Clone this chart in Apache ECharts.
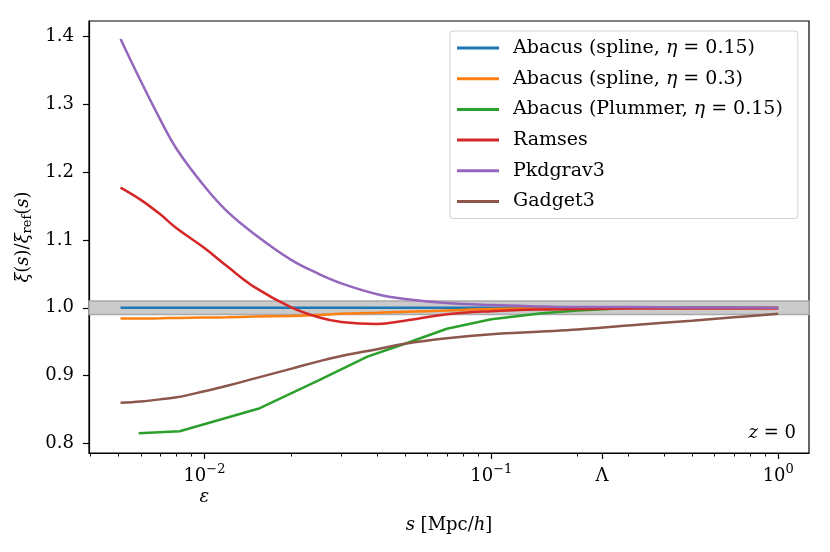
<!DOCTYPE html>
<html lang="en">
<head>
    <meta charset="UTF-8">
    <title>xi ratio</title>
    <script src="https://cdn.jsdelivr.net/npm/echarts@6.0.0/dist/echarts.min.js"></script>
    <style>
        html, body { margin: 0; padding: 0; background: #fff; }
    </style>
</head>
<body>
    <div id="chart" style="width: 830px; height: 552px;"></div>
    <script>
        // separations s [Mpc/h]
        var sGrid = [0.0051, 0.006, 0.007, 0.008, 0.01, 0.012, 0.015, 0.02, 0.025, 0.03,
            0.04, 0.05, 0.07, 0.1, 0.15, 0.2, 0.3, 0.5, 0.7, 1.0];

        var splineEta015 = [1, 1, 1, 1, 1, 1, 1, 1, 1, 1, 1, 1, 1, 1, 1, 1, 1, 1, 1, 1];
        var splineEta03 = [0.984, 0.984, 0.9845, 0.985, 0.9855, 0.986, 0.987, 0.988, 0.9895, 0.991,
            0.9925, 0.994, 0.996, 0.998, 0.999, 0.9995, 1.0, 1.0, 1.0, 1.0];
        var ramses = [1.177, 1.159, 1.138, 1.117, 1.088, 1.061, 1.030, 1.001, 0.986, 0.979,
            0.976, 0.981, 0.9905, 0.995, 0.9975, 0.998, 0.999, 0.999, 0.999, 0.999];
        var pkdgrav3 = [1.396, 1.334, 1.278, 1.234, 1.179, 1.142, 1.108, 1.071, 1.050, 1.036,
            1.020, 1.013, 1.007, 1.004, 1.002, 1.001, 1.001, 1.0005, 1.0003, 1.0];
        var gadget3 = [0.860, 0.862, 0.865, 0.868, 0.877, 0.885, 0.896, 0.910, 0.921, 0.929,
            0.939, 0.947, 0.955, 0.961, 0.965, 0.968, 0.974, 0.981, 0.986, 0.991];

        // Plummer run is sampled on its own coarser grid
        var sPlummer = [0.0059, 0.0082, 0.0156, 0.025, 0.037, 0.05, 0.07, 0.1, 0.15, 0.2, 0.3, 0.5, 0.74];
        var plummer = [0.815, 0.818, 0.852, 0.893, 0.928, 0.947, 0.969, 0.983, 0.992, 0.996, 0.9995, 1.0, 1.0];

        var seriesNames = ['Abacus (spline, η = 0.15)', 'Abacus (spline, η = 0.3)', 'Abacus (Plummer, η = 0.15)',
            'Ramses', 'Pkdgrav3', 'Gadget3'];
        var colors = ['#1f77b4', '#ff7f0e', '#2ca02c', '#d62728', '#9467bd', '#8c564b'];

        var yTicks = [0.8, 0.9, 1.0, 1.1, 1.2, 1.3, 1.4];
        var xMajorTicks = [0.01, 0.1, 0.243, 1];
        var xMinorTicks = [0.004, 0.005, 0.006, 0.007, 0.008, 0.009,
            0.02, 0.03, 0.04, 0.05, 0.06, 0.07, 0.08, 0.09,
            0.2, 0.3, 0.4, 0.5, 0.6, 0.7, 0.8, 0.9];

        var FONT = 'DejaVu Serif';

        function pairs(xs, ys) {
            return xs.map(function (x, i) { return [x, ys[i]]; });
        }

        var valueSets = [
            pairs(sGrid, splineEta015),
            pairs(sGrid, splineEta03),
            pairs(sPlummer, plummer),
            pairs(sGrid, ramses),
            pairs(sGrid, pkdgrav3),
            pairs(sGrid, gadget3)
        ];

        var series = valueSets.map(function (d, i) {
            var s = {
                name: seriesNames[i],
                type: 'line',
                xAxisIndex: 0,
                data: d,
                symbol: 'none',
                smooth: i === 2 ? false : 0.4,
                lineStyle: { width: 2.5, color: colors[i] },
                itemStyle: { color: colors[i] },
                z: 3
            };
            if (i === 0) {
                // +-1% band
                s.markArea = {
                    silent: true,
                    z: 1,
                    itemStyle: { color: '#cbcbcb', borderColor: '#a9a9a9', borderWidth: 1.5 },
                    data: [[{ yAxis: 0.99 }, { yAxis: 1.01 }]]
                };
            }
            return s;
        });

        var myChart = echarts.init(document.getElementById('chart'));
        var option = {
            backgroundColor: '#ffffff',
            animation: false,
            textStyle: { fontFamily: FONT },
            grid: {
                left: 89,
                top: 21,
                right: 21,
                bottom: 99,
                show: true,
                borderColor: '#000',
                borderWidth: 1.2,
                backgroundColor: 'transparent'
            },
            legend: {
                orient: 'vertical',
                left: 450,
                top: 31,
                padding: [7, 15, 7, 7],
                itemGap: 10.7,
                itemWidth: 42,
                itemHeight: 3,
                icon: 'rect',
                backgroundColor: 'rgba(255,255,255,0.85)',
                borderColor: '#d0d0d0',
                borderWidth: 1,
                borderRadius: 3,
                formatter: function (name) {
                    return name.replace('η', '{i|η}');
                },
                textStyle: {
                    fontFamily: FONT,
                    fontSize: 19,
                    color: '#000',
                    lineHeight: 20,
                    padding: [0, 0, 0, 9],
                    rich: {
                        i: { fontFamily: FONT, fontStyle: 'italic', fontSize: 19, color: '#000' }
                    }
                },
                data: seriesNames
            },
            xAxis: [{
                type: 'log',
                logBase: 10,
                min: 0.00396,
                max: 1.28,
                name: '{i|s} [Mpc/{i|h}]',
                nameLocation: 'middle',
                nameGap: 63,
                nameTextStyle: {
                    fontFamily: FONT,
                    fontSize: 18,
                    color: '#000',
                    rich: {
                        i: { fontFamily: FONT, fontStyle: 'italic', fontSize: 18, color: '#000' }
                    }
                },
                axisLine: { show: true, lineStyle: { color: '#000', width: 1.2 } },
                axisTick: {
                    show: true,
                    customValues: xMajorTicks,
                    length: 6,
                    lineStyle: { color: '#000', width: 1.2 }
                },
                minorTick: { show: false },
                splitLine: { show: false },
                axisLabel: {
                    customValues: xMajorTicks,
                    margin: 10,
                    color: '#000',
                    fontFamily: FONT,
                    fontSize: 18,
                    formatter: function (v) {
                        if (Math.abs(v - 0.01) < 1e-6) return '{b|10}{sup|−2}\n{e|ε}';
                        if (Math.abs(v - 0.1) < 1e-6) return '{b|10}{sup|−1}';
                        if (Math.abs(v - 1) < 1e-6) return '{b|10}{sup|0}';
                        return '{b|Λ}';
                    },
                    rich: {
                        b: { fontFamily: FONT, fontSize: 18, color: '#000', lineHeight: 22, verticalAlign: 'bottom' },
                        sup: { fontFamily: FONT, fontSize: 13, color: '#000', lineHeight: 22, verticalAlign: 'top', padding: [0, 0, 6, 0] },
                        e: { fontFamily: FONT, fontSize: 18, fontStyle: 'italic', color: '#000', lineHeight: 24 }
                    }
                }
            }, {
                type: 'log',
                logBase: 10,
                min: 0.00396,
                max: 1.28,
                position: 'bottom',
                axisLine: { show: false },
                axisTick: {
                    show: true,
                    customValues: xMinorTicks,
                    length: 3.5,
                    lineStyle: { color: '#000', width: 1 }
                },
                axisLabel: { show: false },
                splitLine: { show: false }
            }],
            yAxis: {
                type: 'value',
                min: 0.786,
                max: 1.4225,
                name: '{i|ξ}({i|s})/{i|ξ}{sub|ref}({i|s})',
                nameLocation: 'middle',
                nameGap: 55,
                nameTextStyle: {
                    fontFamily: FONT,
                    fontSize: 18,
                    color: '#000',
                    rich: {
                        i: { fontFamily: FONT, fontStyle: 'italic', fontSize: 18, color: '#000' },
                        sub: { fontFamily: FONT, fontSize: 13, color: '#000', padding: [8, 0, 0, 0] }
                    }
                },
                axisLine: { show: true, lineStyle: { color: '#000', width: 1.2 } },
                axisTick: {
                    show: true,
                    customValues: yTicks,
                    length: 6,
                    lineStyle: { color: '#000', width: 1.2 }
                },
                splitLine: { show: false },
                axisLabel: {
                    customValues: yTicks,
                    margin: 15,
                    color: '#000',
                    fontFamily: FONT,
                    fontSize: 18,
                    formatter: function (v) { return v.toFixed(1); }
                }
            },
            graphic: [{
                type: 'text',
                right: 34,
                top: 424,
                style: {
                    text: '{i|z} = 0',
                    fill: '#000',
                    font: '18px "DejaVu Serif"',
                    rich: {
                        i: { fontFamily: FONT, fontStyle: 'italic', fontSize: 18, fill: '#000' }
                    }
                }
            }],
            series: series
        };

        window.addEventListener('resize', () => {
            myChart.resize();
        });
        myChart.setOption(option);
    </script>
</body>
</html>
